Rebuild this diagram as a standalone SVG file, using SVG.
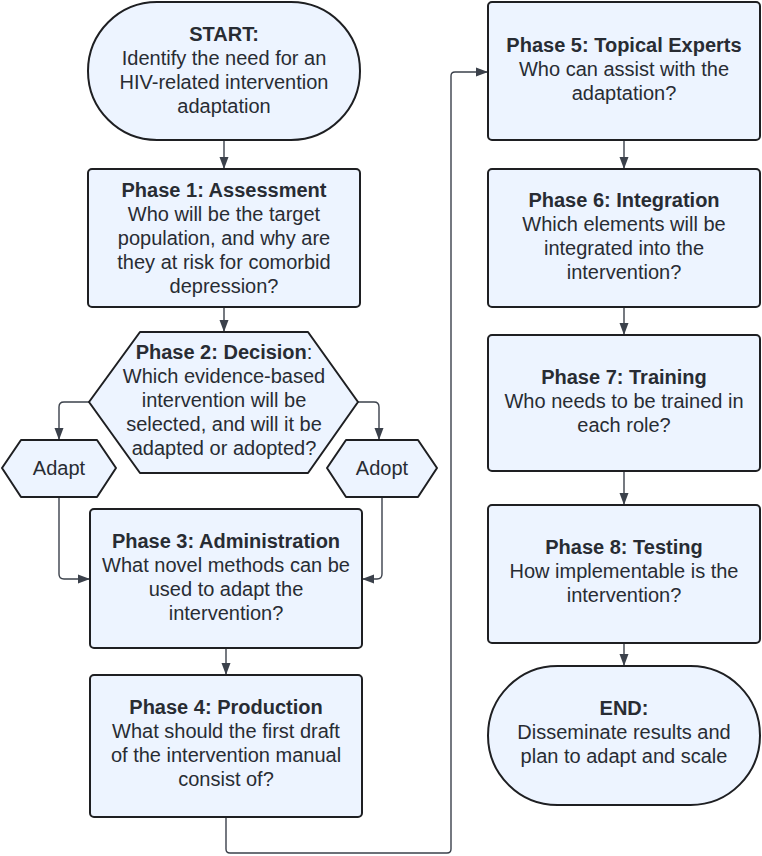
<svg xmlns="http://www.w3.org/2000/svg" width="762" height="856" viewBox="0 0 762 856">
<defs>
<marker id="arr" viewBox="0 0 12 10" refX="11" refY="5" markerWidth="12" markerHeight="10" markerUnits="userSpaceOnUse" orient="auto">
<path d="M0,0.5 L12,5 L0,9.5 z" fill="#3b414b"/>
</marker>
<style>
.n{fill:#edf4ff;stroke:#1e1f22;stroke-width:2;stroke-linejoin:round}
text{font-family:"Liberation Sans",Arial,sans-serif;font-size:20px;fill:#282c33;text-anchor:middle}
.b{font-weight:bold}
.c{fill:none;stroke:#3b414b;stroke-width:1.4}
</style>
</defs>
<rect width="762" height="856" fill="#ffffff"/>
<g id="connectors">
<path class="c" d="M224,140 L224,168" marker-end="url(#arr)"/>
<path class="c" d="M224,307 L224,331" marker-end="url(#arr)"/>
<path class="c" d="M89,402 L64,402 Q59,402 59,407 L59,439" marker-end="url(#arr)"/>
<path class="c" d="M358,402 L374,402 Q379,402 379,407 L379,439" marker-end="url(#arr)"/>
<path class="c" d="M59,497 L59,574 Q59,579 64,579 L89,579" marker-end="url(#arr)"/>
<path class="c" d="M382,497 L382,574 Q382,579 377,579 L363,579" marker-end="url(#arr)"/>
<path class="c" d="M226,648 L226,674" marker-end="url(#arr)"/>
<path class="c" d="M226,817 L226,849 Q226,853 230,853 L447,853 Q451,853 451,849 L451,76 Q451,72 455,72 L487,72" marker-end="url(#arr)"/>
<path class="c" d="M624,140 L624,168" marker-end="url(#arr)"/>
<path class="c" d="M624,307 L624,334" marker-end="url(#arr)"/>
<path class="c" d="M624,471 L624,504" marker-end="url(#arr)"/>
<path class="c" d="M624,643 L624,665" marker-end="url(#arr)"/>
</g>
<g id="start">
<rect class="n" x="88" y="2" width="272" height="138" rx="69" ry="69"/>
<text x="224" y="40.5" class="b">START:</text>
<text x="224" y="64.5">Identify the need for an</text>
<text x="224" y="88.5">HIV-related intervention</text>
<text x="224" y="112.5">adaptation</text>
</g>
<g id="phase1">
<rect class="n" x="88" y="169" width="272" height="138" rx="4"/>
<text x="224" y="196.5" class="b">Phase 1: Assessment</text>
<text x="224" y="220.5">Who will be the target</text>
<text x="224" y="244.5">population, and why are</text>
<text x="224" y="268.5">they at risk for comorbid</text>
<text x="224" y="292.5">depression?</text>
</g>
<g id="phase2">
<path class="n" d="M89,402 L140,332 L308,332 L358,402 L308,473 L140,473 Z"/>
<text x="224" y="358.5"><tspan class="b">Phase 2: Decision</tspan>:</text>
<text x="224" y="382.5">Which evidence-based</text>
<text x="224" y="406.5">intervention will be</text>
<text x="224" y="430.5">selected, and will it be</text>
<text x="224" y="454.5">adapted or adopted?</text>
</g>
<g id="adapt">
<path class="n" d="M2,468 L21,440 L97,440 L116,468 L97,497 L21,497 Z"/>
<text x="59" y="475">Adapt</text>
</g>
<g id="adopt">
<path class="n" d="M327,468 L346,440 L418,440 L437,468 L418,497 L346,497 Z"/>
<text x="382" y="475">Adopt</text>
</g>
<g id="phase3">
<rect class="n" x="90" y="509" width="272" height="139" rx="4"/>
<text x="226" y="548" class="b">Phase 3: Administration</text>
<text x="226" y="572">What novel methods can be</text>
<text x="226" y="596">used to adapt the</text>
<text x="226" y="620">intervention?</text>
</g>
<g id="phase4">
<rect class="n" x="90" y="675" width="272" height="142" rx="4"/>
<text x="226" y="714" class="b">Phase 4: Production</text>
<text x="226" y="738">What should the first draft</text>
<text x="226" y="762">of the intervention manual</text>
<text x="226" y="786">consist of?</text>
</g>
<g id="phase5">
<rect class="n" x="488" y="2" width="272" height="138" rx="4"/>
<text x="624" y="52" class="b">Phase 5: Topical Experts</text>
<text x="624" y="76">Who can assist with the</text>
<text x="624" y="100">adaptation?</text>
</g>
<g id="phase6">
<rect class="n" x="488" y="169" width="272" height="138" rx="4"/>
<text x="624" y="207" class="b">Phase 6: Integration</text>
<text x="624" y="231">Which elements will be</text>
<text x="624" y="255">integrated into the</text>
<text x="624" y="279">intervention?</text>
</g>
<g id="phase7">
<rect class="n" x="488" y="335" width="272" height="136" rx="4"/>
<text x="624" y="384" class="b">Phase 7: Training</text>
<text x="624" y="408">Who needs to be trained in</text>
<text x="624" y="432">each role?</text>
</g>
<g id="phase8">
<rect class="n" x="488" y="505" width="272" height="138" rx="4"/>
<text x="624" y="554" class="b">Phase 8: Testing</text>
<text x="624" y="578">How implementable is the</text>
<text x="624" y="602">intervention?</text>
</g>
<g id="end">
<rect class="n" x="488" y="666" width="272" height="139" rx="69.5" ry="69.5"/>
<text x="624" y="715" class="b">END:</text>
<text x="624" y="739">Disseminate results and</text>
<text x="624" y="763">plan to adapt and scale</text>
</g>
</svg>
